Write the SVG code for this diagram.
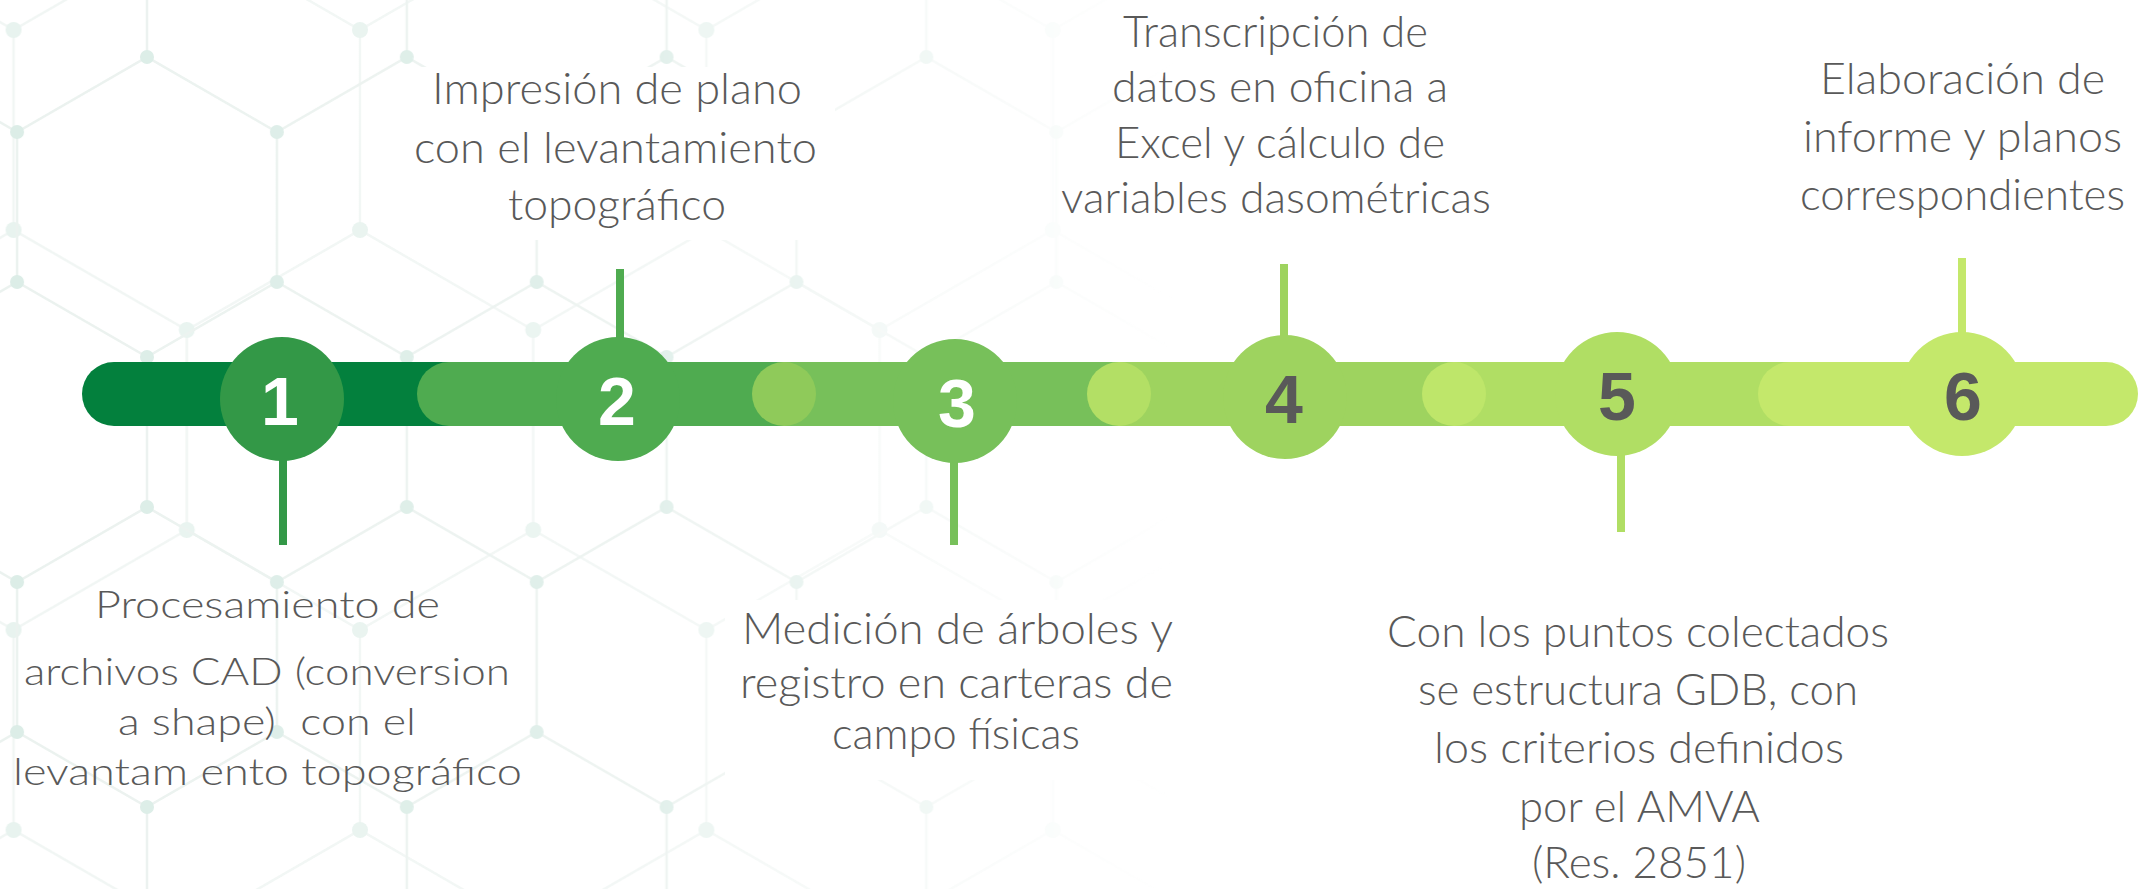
<svg xmlns="http://www.w3.org/2000/svg" width="2138" height="889" viewBox="0 0 2138 889">
<style>
.lbl{font-family:Lato,"Open Sans","Liberation Sans",sans-serif;font-weight:300;fill:#595959;text-anchor:start}
.l1{font-size:37px}
.lt{font-size:43px}
.num{font-family:"Liberation Sans",Arial,sans-serif;font-weight:700;font-size:68px;text-anchor:middle}
.w{fill:#ffffff}
.g{fill:#595959}
.conn{stroke-width:8;fill:none}
.ga{stroke:#ebf2ef;stroke-width:2.5;fill:none}
.gan{fill:#dcede7}
.gb{stroke:#f1f6f4;stroke-width:2.5;fill:none}
.gbn{fill:#e8f3ef}
</style>
<defs>
<pattern id="hexA" patternUnits="userSpaceOnUse" x="147" y="57" width="259.8" height="450">
<path class="ga" d="M0,0 L129.9,75 L259.8,0 M129.9,75 V225 M0,300 L129.9,225 L259.8,300 M0,300 V450 M259.8,300 V450"/>
<g class="gan">
<circle cx="0" cy="0" r="7"/><circle cx="259.8" cy="0" r="7"/><circle cx="129.9" cy="75" r="7"/><circle cx="129.9" cy="225" r="7"/>
<circle cx="0" cy="300" r="7"/><circle cx="259.8" cy="300" r="7"/><circle cx="0" cy="450" r="7"/><circle cx="259.8" cy="450" r="7"/>
</g>
</pattern>
<pattern id="hexB" patternUnits="userSpaceOnUse" x="360" y="230" width="346.4" height="600">
<path class="gb" d="M0,0 L173.2,100 L346.4,0 M173.2,100 V300 M0,400 L173.2,300 L346.4,400 M0,400 V600 M346.4,400 V600"/>
<g class="gbn">
<circle cx="0" cy="0" r="8"/><circle cx="346.4" cy="0" r="8"/><circle cx="173.2" cy="100" r="8"/><circle cx="173.2" cy="300" r="8"/>
<circle cx="0" cy="400" r="8"/><circle cx="346.4" cy="400" r="8"/><circle cx="0" cy="600" r="8"/><circle cx="346.4" cy="600" r="8"/>
</g>
</pattern>
<linearGradient id="fadeG" x1="0" y1="0" x2="1" y2="0">
<stop offset="0" stop-color="#fff" stop-opacity="1"/>
<stop offset="0.3" stop-color="#fff" stop-opacity="0.85"/>
<stop offset="0.55" stop-color="#fff" stop-opacity="0"/>
<stop offset="1" stop-color="#fff" stop-opacity="0"/>
</linearGradient>
<mask id="fade" maskUnits="userSpaceOnUse" x="0" y="0" width="2138" height="889">
<rect x="0" y="0" width="2138" height="889" fill="url(#fadeG)"/>
</mask>
</defs>

<rect x="0" y="0" width="2138" height="889" fill="#ffffff"/>

<g id="background" mask="url(#fade)">
<rect x="0" y="0" width="2138" height="889" fill="url(#hexB)"/>
<rect x="0" y="0" width="2138" height="889" fill="url(#hexA)"/>
</g>

<g id="text-boxes" fill="#ffffff">
<rect x="405" y="67" width="430" height="173"/>
<rect x="725" y="600" width="465" height="180"/>
</g>

<g id="bar">
<rect x="82" y="362" width="420" height="64" rx="32" fill="#03803d"/>
<rect x="417" y="362" width="400" height="64" rx="32" fill="#4fab50"/>
<rect x="784" y="362" width="370" height="64" fill="#77c05a"/>
<rect x="1119" y="362" width="370" height="64" fill="#9ed35f"/>
<rect x="1454" y="362" width="370" height="64" fill="#b0de64"/>
<rect x="1758" y="362" width="380" height="64" rx="32" fill="#c4e86b"/>
<circle cx="784" cy="394" r="32" fill="#8fca5a"/>
<circle cx="1119" cy="394" r="32" fill="#b3df65"/>
<circle cx="1454" cy="394" r="32" fill="#bee66a"/>
</g>

<g id="connectors">
<line class="conn" x1="283" y1="455" x2="283" y2="545" stroke="#339847"/>
<line class="conn" x1="620" y1="269" x2="620" y2="345" stroke="#4fab50"/>
<line class="conn" x1="954" y1="455" x2="954" y2="545" stroke="#77c05a"/>
<line class="conn" x1="1284" y1="264" x2="1284" y2="345" stroke="#9ed35f"/>
<line class="conn" x1="1621" y1="450" x2="1621" y2="532" stroke="#b0de64"/>
<line class="conn" x1="1962" y1="258" x2="1962" y2="340" stroke="#c4e86b"/>
</g>

<g id="step1">
<circle cx="282" cy="399" r="62" fill="#339847"/>
<text class="num w" x="280" y="425">1</text>
<text class="lbl l1" x="95" y="618" textLength="345" lengthAdjust="spacingAndGlyphs">Procesamiento de</text>
<text class="lbl l1" x="24" y="685" textLength="486" lengthAdjust="spacingAndGlyphs">archivos CAD (conversion</text>
<text class="lbl l1" x="118" y="735" textLength="298" lengthAdjust="spacingAndGlyphs" xml:space="preserve">a shape)  con el</text>
<text class="lbl l1" x="13" y="785" textLength="509" lengthAdjust="spacingAndGlyphs">levantam ento topográfico</text>
</g>

<g id="step2">
<circle cx="618" cy="399" r="62" fill="#4fab50"/>
<text class="num w" x="617" y="425">2</text>
<text class="lbl lt" x="432" y="104" textLength="370" lengthAdjust="spacingAndGlyphs">Impresión de plano</text>
<text class="lbl lt" x="414" y="163" textLength="403" lengthAdjust="spacingAndGlyphs">con el levantamiento</text>
<text class="lbl lt" x="508" y="220" textLength="218" lengthAdjust="spacingAndGlyphs">topográfico</text>
</g>

<g id="step3">
<circle cx="955" cy="401" r="62" fill="#77c05a"/>
<text class="num w" x="957" y="427">3</text>
<text class="lbl lt" x="742" y="644" textLength="431" lengthAdjust="spacingAndGlyphs">Medición de árboles y</text>
<text class="lbl lt" x="740" y="698" textLength="433" lengthAdjust="spacingAndGlyphs">registro en carteras de</text>
<text class="lbl lt" x="832" y="749" textLength="248" lengthAdjust="spacingAndGlyphs">campo físicas</text>
</g>

<g id="step4">
<circle cx="1285" cy="397" r="62" fill="#9ed35f"/>
<text class="num g" x="1284" y="423">4</text>
<text class="lbl lt" x="1123" y="47" textLength="305" lengthAdjust="spacingAndGlyphs">Transcripción de</text>
<text class="lbl lt" x="1112" y="102" textLength="336" lengthAdjust="spacingAndGlyphs">datos en oficina a</text>
<text class="lbl lt" x="1115" y="158" textLength="330" lengthAdjust="spacingAndGlyphs">Excel y cálculo de</text>
<text class="lbl lt" x="1061" y="213" textLength="430" lengthAdjust="spacingAndGlyphs">variables dasométricas</text>
</g>

<g id="step5">
<circle cx="1617" cy="394" r="62" fill="#b0de64"/>
<text class="num g" x="1617" y="420">5</text>
<text class="lbl lt" x="1387" y="647" textLength="502" lengthAdjust="spacingAndGlyphs">Con los puntos colectados</text>
<text class="lbl lt" x="1418" y="705" textLength="440" lengthAdjust="spacingAndGlyphs">se estructura GDB, con</text>
<text class="lbl lt" x="1434" y="763" textLength="410" lengthAdjust="spacingAndGlyphs">los criterios definidos</text>
<text class="lbl lt" x="1519" y="822" textLength="241" lengthAdjust="spacingAndGlyphs">por el AMVA</text>
<text class="lbl lt" x="1532" y="878" textLength="214" lengthAdjust="spacingAndGlyphs">(Res. 2851)</text>
</g>

<g id="step6">
<circle cx="1962" cy="394" r="62" fill="#c4e86b"/>
<text class="num g" x="1963" y="420">6</text>
<text class="lbl lt" x="1820" y="94" textLength="285" lengthAdjust="spacingAndGlyphs">Elaboración de</text>
<text class="lbl lt" x="1803" y="152" textLength="319" lengthAdjust="spacingAndGlyphs">informe y planos</text>
<text class="lbl lt" x="1800" y="210" textLength="325" lengthAdjust="spacingAndGlyphs">correspondientes</text>
</g>
</svg>
